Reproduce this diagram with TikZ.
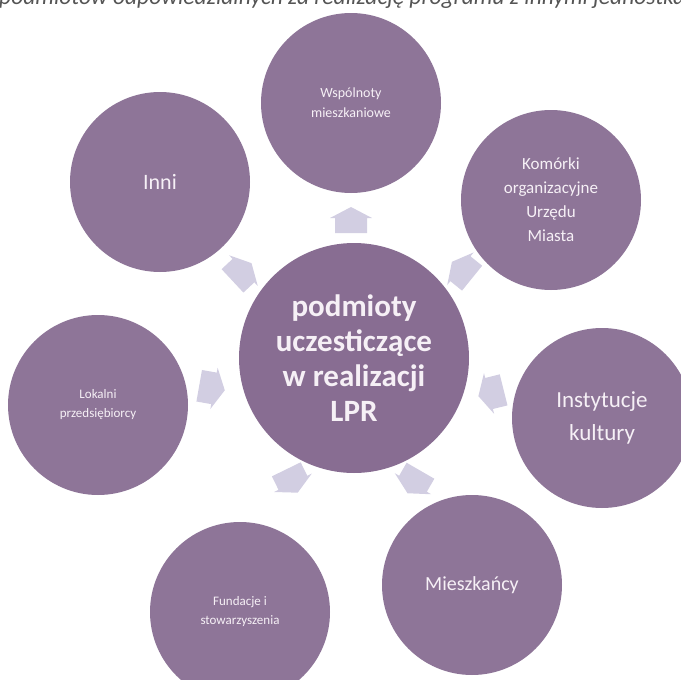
\documentclass[tikz,border=0pt]{standalone}
\usepackage{fontspec}
\setmainfont{Carlito}
\definecolor{circfill}{HTML}{8E7598}
\definecolor{centfill}{HTML}{886D92}
\definecolor{arrfill}{HTML}{D2CEE2}
\definecolor{txtcol}{HTML}{F6F0F6}
\definecolor{toptxt}{HTML}{555555}
\begin{document}
\begin{tikzpicture}[x=1pt,y=-1pt,
  sat/.style={circle,fill=circfill,draw=none,minimum size=180pt,inner sep=0pt,
    text=txtcol,align=center},
  cent/.style={circle,fill=centfill,draw=none,minimum size=230pt,inner sep=0pt,
    text=txtcol,align=center,font=\fontsize{31}{35}\selectfont\bfseries},
  arr/.style={fill=arrfill,draw=none}]
\useasboundingbox (0,0) rectangle (681,680);
\clip (0,0) rectangle (681,680);
\node[anchor=base west,text=toptxt,font=\fontsize{23.5}{25}\selectfont\itshape,inner sep=0pt] (top) at (-1,5)
  {podmiotów odpowiedzialnych za realizację programu z innymi jednostkami};
% satellites
\node[sat,font=\fontsize{14}{20}\selectfont] (wsp) at (351,103) {Wspólnoty\\mieszkaniowe};
\node[sat,font=\fontsize{17}{24}\selectfont] (kom) at (551,200) {Komórki\\organizacyjne\\Urzędu\\Miasta};
\node[sat,font=\fontsize{23}{33}\selectfont] (ins) at (602,418) {Instytucje\\kultury};
\node[sat,font=\fontsize{20}{24}\selectfont] (mie) at (472,585) {Mieszkańcy};
\node[sat,font=\fontsize{13}{19}\selectfont] (fun) at (240,612) {Fundacje i\\stowarzyszenia};
\node[sat,font=\fontsize{13}{19}\selectfont] (lok) at (98,405) {Lokalni\\przedsiębiorcy};
\node[sat,font=\fontsize{22}{26}\selectfont] (inn) at (160,182) {Inni};
% center
\node[cent] (c) at (354,358) {podmioty\\uczesticzące\\w realizacji\\LPR};
% arrows
\foreach \ax/\ay/\r in {351/220/0, 462/270/51, 491/393/104, 414/482/150,
                   292/481/206, 212/388/-100, 242/272/-47}{
  \begin{scope}[shift={(\ax,\ay)},rotate=\r]
    \fill[arr] (0,-13) -- (21,-2) -- (16,-2) -- (16,13) -- (-16,13) -- (-16,-2) -- (-21,-2) -- cycle;
  \end{scope}
}
\end{tikzpicture}
\end{document}
